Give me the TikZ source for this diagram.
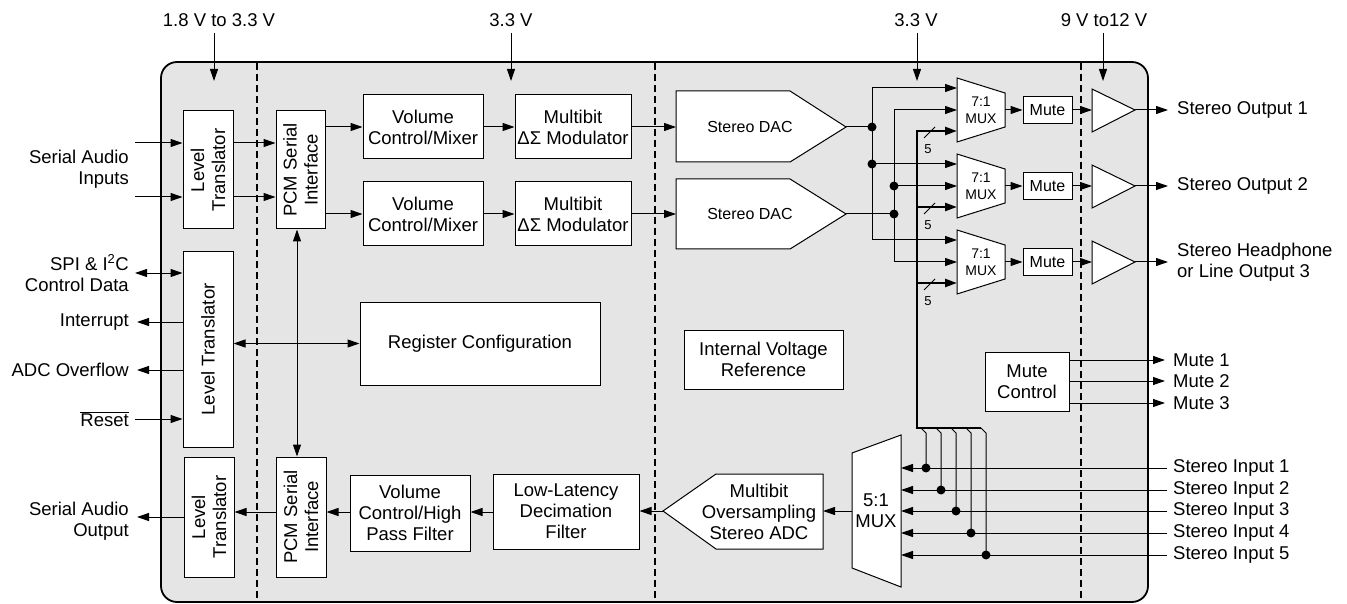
\documentclass[tikz,border=0pt]{standalone}
\usepackage{fontspec}
\setmainfont{Liberation Sans}
\usetikzlibrary{arrows.meta}
\newcommand\fsmain{\fontsize{18.5}{21}\selectfont}
\newcommand\fsdac{\fontsize{16}{19}\selectfont}
\newcommand\fsmux{\fontsize{14}{17}\selectfont}
\newcommand\fsfive{\fontsize{13}{15}\selectfont}
\definecolor{chip}{RGB}{229,229,229}
\tikzset{
  wire/.style={line width=1pt},
  arr/.style={wire,->},
  darr/.style={wire,<->},
  bus/.style={line width=2.5pt},
  busarr/.style={bus,->},
  box/.style={draw, fill=white, line width=1pt, inner sep=0pt, align=center, font=\fsmain},
  shp/.style={draw, fill=white, line width=1pt, line join=miter},
  jdot/.style={circle, fill=black, inner sep=0pt, minimum size=9pt},
  lbl/.style={font=\fsmain, inner sep=0pt, align=center},
  rot/.style={font=\fsmain, rotate=90, align=center, inner sep=0pt},
}
\begin{document}
\begin{tikzpicture}[x=1pt,y=-1pt,>={Triangle[length=12pt,width=8pt]}]
\useasboundingbox (0,0) rectangle (1347,604);
% chip outline
\draw[line width=1.8pt, fill=chip, rounded corners=16pt] (161,62) rectangle (1148,602);
\foreach \x in {257,655,1081}
  \draw[line width=1.2pt, dash pattern=on 7pt off 4pt] (\x,63) -- (\x,601);

% supplies
\node[lbl] (sup1) at (219,20) {1.8 V to 3.3 V};
\node[lbl] (sup2) at (511,20) {3.3 V};
\node[lbl] (sup3) at (916,20) {3.3 V};
\node[lbl] (sup4) at (1104,20) {9 V to12 V};
\coordinate (p1a) at (214,33); \coordinate (p1b) at (214,81);
\coordinate (p2a) at (511,33); \coordinate (p2b) at (511,81);
\coordinate (p3a) at (917,33); \coordinate (p3b) at (917,81);
\coordinate (p4a) at (1103,33); \coordinate (p4b) at (1103,81);
\draw[arr] (p1a) -- (p1b);
\draw[arr] (p2a) -- (p2b);
\draw[arr] (p3a) -- (p3b);
\draw[arr] (p4a) -- (p4b);

% blocks
\node[box, minimum width=50pt, minimum height=118pt] (lt1) at (208,170) {};
\node[rot] at (lt1) {Level\\Translator};
\node[box, minimum width=49pt, minimum height=118pt] (pcm1) at (300.5,170) {};
\node[rot] at (pcm1) {PCM Serial\\Interface};
\node[box, minimum width=120pt, minimum height=64pt] (vm1) at (423,127) {Volume\\Control/Mixer};
\node[box, minimum width=120pt, minimum height=64pt] (vm2) at (423,214) {Volume\\Control/Mixer};
\node[box, minimum width=116pt, minimum height=64pt] (mb1) at (573,127) {Multibit\\ΔΣ Modulator};
\node[box, minimum width=116pt, minimum height=64pt] (mb2) at (573,214) {Multibit\\ΔΣ Modulator};
\node[box, minimum width=50pt, minimum height=195pt] (lt2) at (208,349.5) {};
\node[rot] at (lt2) {Level Translator};
\node[box, minimum width=240pt, minimum height=83pt] (rc) at (480,343.5) {Register Configuration};
\node[box, minimum width=159pt, minimum height=59pt] (ivr) at (763.5,359.5) {Internal Voltage\\Reference};
\node[box, minimum width=50pt, minimum height=120pt] (lt3) at (209,517) {};
\node[rot] at (lt3) {Level\\Translator};
\node[box, minimum width=50pt, minimum height=120pt] (pcm2) at (301,517) {};
\node[rot] at (pcm2) {PCM Serial\\Interface};
\node[box, minimum width=120pt, minimum height=76pt] (vhp) at (410,513) {Volume\\Control/High\\Pass Filter};
\node[box, minimum width=146pt, minimum height=75pt] (lld) at (566,511.5) {Low-Latency\\Decimation\\Filter};
\node[box, minimum width=84pt, minimum height=59pt] (mc) at (1027,381.5) {Mute\\Control};

% DACs
\draw[shp] (676,91) -- (790,91) -- (846,127) -- (790,162) -- (676,162) -- cycle;
\node[font=\fsdac] (dac1) at (750,127) {Stereo DAC};
\draw[shp] (676,179) -- (790,179) -- (846,214) -- (790,249) -- (676,249) -- cycle;
\node[font=\fsdac] (dac2) at (750,214) {Stereo DAC};
\coordinate (dac1in) at (676,127); \coordinate (dac1out) at (846,127);
\coordinate (dac2in) at (676,214); \coordinate (dac2out) at (846,214);

% ADC
\draw[shp] (663,511) -- (716,474) -- (823,474) -- (823,549) -- (716,549) -- cycle;
\node[font=\fsmain, align=center, inner sep=0pt] (adc) at (759,512) {Multibit\\Oversampling\\Stereo ADC};
\coordinate (adcout) at (663,511); \coordinate (adcin) at (823,511);

% 5:1 MUX
\draw[shp] (852,453) -- (901,435) -- (901,587) -- (852,568) -- cycle;
\node[font=\fsmain, align=center, inner sep=0pt] (mx5) at (876,511) {5:1\\MUX};
\coordinate (mx5out) at (852,511);

% left side signals
\coordinate (yA) at (0,143); \coordinate (yB) at (0,197);
\coordinate (siA) at (135,143); \coordinate (siB) at (135,197);
\draw[arr] (siA) -- (lt1.west |- siA);
\draw[arr] (siB) -- (lt1.west |- siB);
\draw[arr] (lt1.east |- yA) -- (pcm1.west |- yA);
\draw[arr] (lt1.east |- yB) -- (pcm1.west |- yB);
\draw[arr] (pcm1.east |- vm1) -- (vm1.west);
\draw[arr] (pcm1.east |- vm2) -- (vm2.west);
\draw[arr] (vm1.east) -- (mb1.west);
\draw[arr] (vm2.east) -- (mb2.west);
\draw[arr] (mb1.east) -- (dac1in);
\draw[arr] (mb2.east) -- (dac2in);

\coordinate (spi) at (135,273);
\coordinate (irq) at (137,322);
\coordinate (ovf) at (137,370);
\coordinate (rst) at (135,419);
\draw[darr] (spi) -- (lt2.west |- spi);
\draw[arr] (lt2.west |- irq) -- (irq);
\draw[arr] (lt2.west |- ovf) -- (ovf);
\draw[arr] (rst) -- (lt2.west |- rst);
\draw[darr] (lt2.east |- rc) -- (rc.west);
\coordinate (xv) at (297,0);
\draw[darr] (pcm1.south -| xv) -- (pcm2.north -| xv);

\coordinate (yo) at (0,512);
\coordinate (sao) at (137,517);
\draw[arr] (lt3.west) -- (sao);
\draw[arr] (pcm2.west |- yo) -- (lt3.east |- yo);
\draw[arr] (vhp.west |- yo) -- (pcm2.east |- yo);
\draw[arr] (lld.west |- yo) -- (vhp.east |- yo);
\draw[arr] (adcout) -- (lld.east |- adcout);
\draw[arr] (mx5out) -- (adcin);

% left labels
\node[lbl, anchor=east, align=right] (lsai) at (129,169) {Serial Audio\\Inputs};
\node[lbl, anchor=east, align=right] (lspi) at (129,273) {SPI \& I\textsuperscript{2}C\\Control Data};
\node[lbl, anchor=east] (lirq) at (129,322) {Interrupt};
\node[lbl, anchor=east] (lovf) at (129,370) {ADC Overflow};
\node[lbl, anchor=east] (lrst) at (129,419) {$\overline{\hbox{Reset}}$};
\node[lbl, anchor=east, align=right] (lsao) at (129,521) {Serial Audio\\Output};

% 7:1 MUXes, mutes, amps
\foreach \k/\yc in {1/110,2/186,3/262}{
  \draw[shp] (957,\yc-32) -- (1005,\yc-17) -- (1005,\yc+17) -- (957,\yc+32) -- cycle;
  \node[font=\fsmux, align=center, inner sep=0pt] (mx\k) at (981,\yc) {7:1\\MUX};
  \coordinate (a\k) at (957,\yc-22);
  \coordinate (b\k) at (957,\yc);
  \coordinate (c\k) at (957,\yc+21);
  \coordinate (o\k) at (1005,\yc);
  \node[box, font=\fsdac, minimum width=49pt, minimum height=27pt] (mu\k) at (1047.5,\yc) {Mute};
  \draw[arr] (o\k) -- (mu\k.west);
  \draw[shp] (1092,\yc-21) -- (1135,\yc) -- (1092,\yc+22) -- cycle;
  \coordinate (ai\k) at (1092,\yc);
  \coordinate (ao\k) at (1135,\yc);
  \coordinate (oe\k) at (1168,\yc);
  \draw[arr] (mu\k.east) -- (ai\k);
  \draw[arr] (ao\k) -- (oe\k);
  \draw[wire] (924,\yc+28) -- (935,\yc+17);
  \node[font=\fsfive, inner sep=0pt] (n\k) at (928,\yc+39) {5};
}
\node[lbl, anchor=west] (so1) at (1177,110) {Stereo Output 1};
\node[lbl, anchor=west] (so2) at (1177,186) {Stereo Output 2};
\node[lbl, anchor=west, align=left] (so3) at (1177,262) {Stereo Headphone\\or Line Output 3};

% DAC distribution
\coordinate (jA1) at (872,127); \coordinate (jA2) at (872,164);
\coordinate (jB1) at (894,186); \coordinate (jB2) at (894,214);
\draw[wire] (dac1out) -- (jA1);
\draw[arr] (jA1) |- (a1);
\draw[arr] (jA1) |- (a3);
\draw[arr] (jA2) -- (a2);
\draw[wire] (dac2out) -- (jB2);
\draw[arr] (jB2) |- (b1);
\draw[arr] (jB2) |- (b3);
\draw[arr] (jB1) -- (b2);
\foreach \j in {jA1,jA2,jB1,jB2} \node[jdot] at (\j) {};

% bus from stereo inputs
\coordinate (bb) at (917,428);
\draw[busarr, line join=miter] (bb) -- (c1 -| bb) -- (c1);
\draw[busarr] (c2 -| bb) -- (c2);
\draw[busarr] (c3 -| bb) -- (c3);
\draw[bus] ([xshift=-1.25pt]bb) -- (981,428);

\foreach \i/\y/\dx in {1/468/926,2/490/941,3/511/956,4/533/971,5/555/986}{
  \coordinate (si\i) at (1167,\y);
  \coordinate (mi\i) at (901,\y);
  \coordinate (d\i) at (\dx,\y);
  \draw[arr] (si\i) -- (mi\i);
  \draw[wire] (\dx-5,428) -- (\dx,433) -- (d\i);
  \node[jdot] at (d\i) {};
  \node[lbl, anchor=west] (sil\i) at (1173,\y) {Stereo Input \i};
}

% mute control outputs
\foreach \i/\y in {1/360,2/381,3/403}{
  \coordinate (mo\i) at (1165,\y);
  \draw[arr] (mc.east |- mo\i) -- (mo\i);
  \node[lbl, anchor=west] (mol\i) at (1173,\y) {Mute \i};
}
\end{tikzpicture}
\end{document}
